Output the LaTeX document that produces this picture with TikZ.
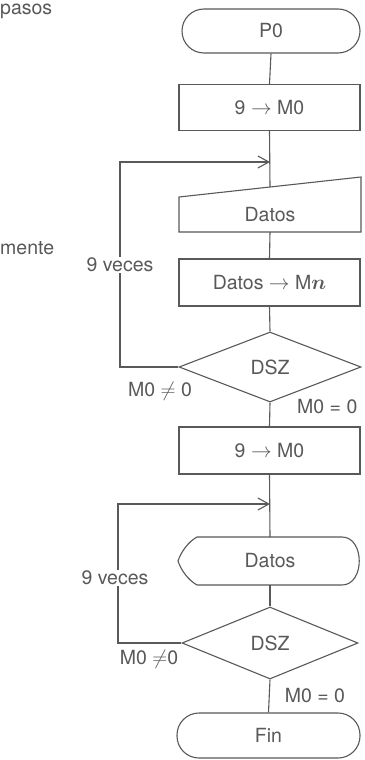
\documentclass[tikz,border=0pt]{standalone}
\usepackage{bm}
\usepackage{fontspec}
\setmainfont{TeX Gyre Heros}
\usetikzlibrary{arrows.meta,shapes.geometric}
\definecolor{ink}{gray}{0.35}
\tikzset{
  every node/.style={font=\fontsize{19.5}{22}\selectfont, text=ink},
  ln/.style={draw=ink, line width=1.1pt},
  term/.style={ln, rectangle, rounded corners=22pt, minimum width=178pt, minimum height=44pt, inner sep=0pt},
  proc/.style={ln, rectangle, minimum width=181pt, minimum height=46pt, inner sep=0pt},
  dec/.style={ln, diamond, aspect=2.6, inner sep=0pt},
  lab/.style={inner sep=1pt},
  arr/.style={ln, -{Straight Barb[length=11pt,width=12pt,line width=1.1pt]}}
}
\begin{document}
\begin{tikzpicture}[x=1pt,y=-1pt]
\useasboundingbox[fill=white] (0,0) rectangle (364,760);
% side fragments
\node[anchor=base west, inner sep=0pt] (pasos) at (0,15) {pasos};
\node[anchor=base west, inner sep=0pt] (mente) at (0,254) {mente};

\node[term] (p0) at (271,31) {P0};
\node[proc] (b1) at (269.5,107.5) {9 $\rightarrow$ M0};
% manual input
\coordinate (in1tl) at (179,197);
\coordinate (in1tr) at (361,177);
\coordinate (in1br) at (361,232);
\coordinate (in1bl) at (179,232);
\coordinate (in1t) at (270,187);
\draw[ln] (in1tl) -- (in1tr) -- (in1br) -- (in1bl) -- cycle;
\node (in1) at (270,215) {Datos};
\coordinate (in1b) at (270,232);
\node[proc, minimum height=47pt] (b2) at (269.5,282.5) {Datos $\rightarrow$ M$\bm{n}$};
\node[dec, minimum width=182pt, minimum height=70pt] (d1) at (270,367) {DSZ};
\node[proc, minimum height=47pt] (b3) at (269.5,450.5) {9 $\rightarrow$ M0};
% display
\coordinate (dtl) at (197,537);
\coordinate (dtr) at (342,537);
\coordinate (dbr) at (342,585);
\coordinate (dbl) at (197,585);
\coordinate (dl) at (178,561);
\draw[ln] (dtl) -- (dtr) .. controls (365,537) and (365,585) .. (dbr) -- (dbl)
  .. controls (188,580) and (181,570) .. (dl) .. controls (181,552) and (188,542) .. (dtl) -- cycle;
\node (disp) at (270,561) {Datos};
\coordinate (dt) at (270,537);
\coordinate (db) at (270,585);
\node[dec, minimum width=176pt, minimum height=72pt] (d2) at (270,643) {DSZ};
\node[term, minimum width=183pt, minimum height=45pt] (fin) at (268.5,735.5) {Fin};

% main flow
\draw[ln] (p0.south) -- (b1.north);
\draw[ln] (b1.south) -- (in1t);
\draw[ln] (in1b) -- (b2.north);
\draw[ln] (b2.south) -- (d1.north);
\draw[ln] (d1.south) -- (b3.north);
\draw[ln] (b3.south) -- (dt);
\draw[ln] (db) -- (d2.north);
\draw[ln] (d2.south) -- (fin.north);

% loops
\coordinate (j1) at (270,162);
\coordinate (c1a) at (120,367);
\coordinate (c1b) at (120,162);
\draw[arr] (d1.west) -- (c1a) -- (c1b) -- (j1);
\node[lab, fill=white] (v1) at (120,265) {9 veces};
\node[lab] (ne1) at (160,391) {M0 $\neq$ 0};
\node[lab, anchor=west] (eq1) at (296,407) {M0 = 0};

\coordinate (j2) at (270,504);
\coordinate (c2a) at (118,643);
\coordinate (c2b) at (118,504);
\draw[arr] (d2.west) -- (c2a) -- (c2b) -- (j2);
\node[lab, fill=white] (v2) at (115,578) {9 veces};
\node[lab] (ne2) at (149,659) {M0 $\neq$0};
\node[lab] (eq2) at (315,696) {M0 = 0};
\end{tikzpicture}
\end{document}
